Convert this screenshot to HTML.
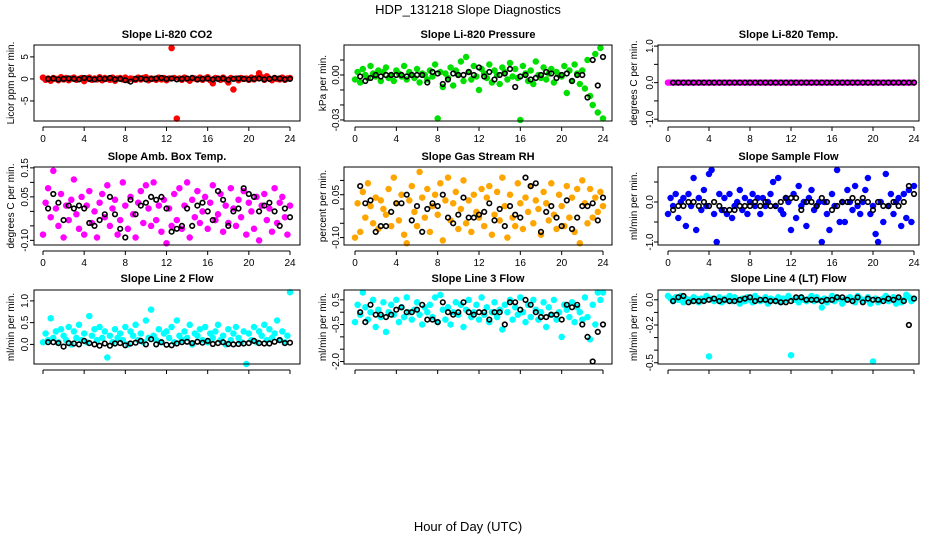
<!DOCTYPE html>
<html><head><meta charset="utf-8"><style>
html,body{margin:0;padding:0;background:#fff;}
svg{display:block;font-family:"Liberation Sans",sans-serif;}
</style></head><body>
<svg id="chart" width="936" height="540" viewBox="0 0 936 540">
<rect x="0" y="0" width="936" height="540" fill="#fff"/>
<text x="468" y="14" text-anchor="middle" font-size="13">HDP_131218  Slope Diagnostics</text>
<text x="468" y="531" text-anchor="middle" font-size="13">Hour of Day (UTC)</text>
</svg>
<script>
const xTicks = [0,4,8,12,16,20,24];
const xTickLabels = ["0","4","8","12","16","20","24"];
// colored series: one value every 0.25 h from 0 to 24; black series: every 0.5 h from 0.5 to 24
const hoursColor = [];
for (let i = 0; i <= 96; i++) hoursColor.push(i * 0.25);
const hoursBlack = [];
for (let i = 1; i <= 48; i++) hoursBlack.push(i * 0.5);

const co2Color = [0.3,-0.2,0.1,-0.4,0.2,0,-0.3,0.4,-0.1,0.2,-0.3,0.1,0.3,-0.2,0,0.2,-0.5,0.1,0.3,-0.2,0.1,-0.1,0.4,-0.3,0.2,0,-0.2,0.3,-0.4,0.1,0.2,-0.1,0.3,-0.3,0.1,0,-0.2,0.3,-0.1,0.2,0.4,-0.3,0.1,0,-0.2,0.3,-0.1,0.2,-0.3,0.1,7.0,0.2,-9.0,0.1,-0.2,0.3,0,-0.4,0.2,0.1,-0.1,0.3,-0.2,0.1,0.4,-0.3,-1.0,0.2,0.1,-0.2,0.3,-0.1,-0.8,0.2,-2.4,0.1,-0.3,0.2,0,0.1,-0.2,0.3,-0.1,0.2,1.3,0.4,-0.2,0.6,0.1,-0.3,0.2,0,-0.1,0.3,-0.2,0.1,0.2];
const co2Black = [0,0.1,-0.1,0,0.1,0,-0.1,0.2,0,-0.1,0.1,0,0.2,-0.1,0,-0.3,-0.6,0,0.1,-0.1,0,0.1,0.2,0,0.1,-0.1,0,0.1,0.2,-0.1,0,0.1,-0.1,0,0.1,-0.2,0,0.1,0,-0.1,0,0.1,-0.1,0,0.2,0.1,-0.1,0];
// pressure in 0.001 kPa/min
const presColor = [-3,2,-5,4,0,-2,6,1,-1,3,-4,2,5,-2,0,-4,3,1,-1,6,-3,2,0,-2,4,-5,1,0,-3,3,-1,7,-29,2,-8,1,-2,5,-7,3,0,9,-4,12,2,-3,6,-1,-10,4,1,-2,7,-5,3,0,-6,5,2,-3,8,-1,4,-2,-30,6,1,-4,3,-6,9,0,-2,5,-3,1,4,-5,2,0,-1,6,-12,3,-4,7,1,-6,3,-9,10,-14,-20,14,-25,18,-29];
const presBlack = [-1,-4,-2,0,-1,0,0,0,0,-1,0,0,0,-5,2,1,-6,-3,1,0,0,2,0,5,-1,2,-3,0,1,4,-8,-1,0,-3,-2,0,2,1,-2,0,1,-4,0,0,-15,10,-7,12];
const tempColor = [0,0,0,0,0,0,0,0,0,0,0,0,0,0,0,0,0,0,0,0,0,0,0,0,0,0,0,0,0,0,0,0,0,0,0,0,0,0,0,0,0,0,0,0,0,0,0,0,0,0,0,0,0,0,0,0,0,0,0,0,0,0,0,0,0,0,0,0,0,0,0,0,0,0,0,0,0,0,0,0,0,0,0,0,0,0,0,0,0,0,0,0,0,0,0,0,0];
const tempBlack = [0,0,0,0,0,0,0,0,0,0,0,0,0,0,0,0,0,0,0,0,0,0,0,0,0,0,0,0,0,0,0,0,0,0,0,0,0,0,0,0,0,0,0,0,0,0,0,0];
// amb box temp in 0.01 C/min
const ambColor = [-8,3,8,-2,14,1,-5,6,-9,2,-3,4,11,-1,-6,5,-8,2,7,-4,0,-9,3,6,-2,9,-5,1,4,-8,-3,10,2,-6,5,-1,-9,3,7,-4,9,1,-5,10,-3,2,-7,4,-11,1,-5,6,-3,8,-6,2,10,-9,4,-2,7,-4,0,5,-6,3,9,-3,-1,6,-7,2,-4,8,1,-5,4,-2,7,-8,3,0,-6,5,-10,2,6,-3,1,-7,8,-4,3,5,-2,-8,2];
const ambBlack = [1,6,3,-3,2,1,2,1,-4,-5,-3,-1,5,-1,-6,-9,4,-1,2,3,5,4,5,1,-7,-6,-5,1,-5,2,3,0,-3,7,4,-5,0,1,8,6,5,0,2,3,0,-5,1,-2];
// gas stream RH in 0.01 %/min
const rhColor = [-10,2,-8,6,-3,9,1,-5,4,-7,3,0,-2,7,-6,11,2,-4,5,-9,-12,3,8,-1,-6,13,4,-3,7,-8,1,5,-2,9,-11,3,11,-4,2,6,-7,0,10,-5,3,-8,5,-1,-3,7,-6,4,8,-9,-2,6,-4,11,1,-10,5,-3,-6,9,2,-7,4,-1,8,-5,3,0,-9,6,2,-4,9,-2,-7,5,1,-6,8,-3,4,-8,7,-12,10,2,-5,7,-3,4,-1,6,1];
const rhBlack = [8,2,3,-8,-6,-6,-1,2,2,5,-4,1,-8,0,2,1,5,-3,-5,-2,4,-3,-3,-2,-1,2,-4,0,-6,1,-2,-3,11,8,9,-8,-1,1,-3,-6,3,-7,-3,1,1,2,-4,4];
// sample flow in 0.1 ml/min/min
const sampColor = [-3,1,-1,2,-4,0,1,-6,2,-1,6,-7,1,-2,3,-1,7,8,-3,-10,2,-2,1,-3,2,-4,-1,0,3,-2,1,-3,0,2,-1,1,-3,1,-1,0,2,5,-1,6,-2,-3,1,0,-7,2,-4,4,-1,0,-6,1,3,-2,-1,0,-10,0,-3,-7,2,-1,8,-5,0,-5,3,0,-2,4,-1,-3,0,3,6,-3,-1,-8,-10,0,-5,7,-1,2,-3,0,1,-6,2,-4,3,-5,4];
const sampBlack = [-2,-1,-1,0,0,-1,0,-1,0,-1,-2,-2,-2,-1,-1,-1,0,-1,0,-1,-1,0,1,1,1,-2,0,0,-1,1,0,-2,-1,0,0,1,0,1,0,-2,0,-1,-1,0,-1,0,4,2];
// line 2 flow in 0.01
const l2Color = [5,25,10,60,15,30,5,35,20,10,40,0,30,15,45,10,25,5,65,20,35,10,40,15,30,-30,20,5,35,15,25,10,40,0,30,20,45,10,25,5,55,15,80,20,10,35,5,25,30,15,40,5,55,20,10,30,15,45,0,25,20,35,10,40,5,25,15,30,45,10,20,0,35,10,25,40,15,5,30,-45,25,10,40,5,30,20,45,10,35,15,25,55,10,30,5,20,120];
const l2Black = [5,5,3,-5,3,2,0,8,3,0,-3,2,-3,2,3,-2,2,4,8,0,12,0,5,-1,-2,2,5,6,3,6,4,8,1,3,5,1,0,1,2,3,8,3,2,2,6,10,3,4];
// line 3 flow in 0.1
const l3Color = [-4,3,-1,8,2,-3,0,5,-6,1,-2,4,-8,0,3,-1,5,-4,2,-2,6,0,-3,1,4,-1,-5,2,0,3,-2,6,-4,7,1,-3,2,-5,0,4,-1,3,-6,1,5,-2,0,3,-3,6,-1,2,-4,0,4,-2,1,-7,3,0,5,-3,2,-1,6,0,-4,3,-2,5,1,-3,0,4,-6,2,-1,5,-3,0,-10,3,1,-2,4,-4,2,0,-3,6,-2,-11,3,-5,8,5,8];
const l3Black = [0,-4,3,-1,-1,-2,-1,1,2,0,0,1,3,-3,-3,-4,4,0,-1,0,4,0,-1,0,0,-3,0,0,-5,4,4,1,5,3,0,-2,-2,-1,-1,-3,3,2,3,-5,-10,-20,-8,-5];
// line 4 flow in 0.01
const l4Color = [3,1,-1,2,0,3,-2,1,0,-1,2,1,-2,1,0,3,-45,1,-1,0,2,-2,1,0,3,-1,2,0,-3,1,-1,2,0,-2,3,1,-1,0,2,-3,1,0,-1,2,-2,1,0,3,-44,0,1,-2,2,0,-1,1,3,-1,2,0,-6,1,-2,0,3,-1,2,1,-3,0,1,2,0,-2,3,1,-1,0,2,-3,-49,1,-2,0,1,3,-1,0,2,-3,1,-2,0,4,2,-1,1];
const l4Black = [-1,2,3,-2,-1,-1,-1,0,1,-1,0,-1,-1,0,1,2,-1,0,0,-1,-1,-2,-2,-1,2,2,0,0,0,-1,0,0,2,2,0,-1,2,-2,1,0,0,-1,1,0,2,-1,-20,1];

const cols = [{bx0:34,bx1:300,x0:43,x24:290,tl:24,yl:10},{bx0:344,bx1:612,x0:355,x24:603,tl:335,yl:322},{bx0:658,bx1:919,x0:668,x24:914,tl:649,yl:633}];
const rows = [{top:45,bot:121,title:38},{top:167,bot:245,title:160},{top:290,bot:364,title:282}];
const panels = [
 {c:0,r:0,id:"co2",title:"Slope Li-820 CO2",yl:"Licor ppm per min.",ymax:7.7,ymin:-9.55,ticks:[-5,0,5],labels:["-5","0","5"],color:"#ff0000",col:co2Color,blk:co2Black},
 {c:1,r:0,id:"pressure",title:"Slope Li-820 Pressure",yl:"kPa per min.",ymax:20,ymin:-30.7,ticks:[10,0,-10,-20,-30],labels:["","0.00","","","-0.03"],color:"#00e000",col:presColor,blk:presBlack},
 {c:2,r:0,id:"temp",title:"Slope Li-820 Temp.",yl:"degrees C per min.",ymax:1.03,ymin:-1.05,ticks:[1,0.5,0,-0.5,-1],labels:["1.0","","0.0","","-1.0"],color:"#ff00ff",col:tempColor,blk:tempBlack},
 {c:0,r:1,id:"amb-box-temp",title:"Slope Amb. Box Temp.",yl:"degrees C per min.",ymax:15.3,ymin:-11.6,ticks:[15,10,5,0,-5,-10],labels:["0.15","","0.05","","","-0.10"],color:"#ff00ff",col:ambColor,blk:ambBlack},
 {c:1,r:1,id:"gas-rh",title:"Slope Gas Stream RH",yl:"percent per min.",ymax:14.7,ymin:-12.6,ticks:[10,5,0,-5,-10],labels:["","0.05","","","-0.10"],color:"#ffa500",col:rhColor,blk:rhBlack},
 {c:2,r:1,id:"sample-flow",title:"Slope Sample Flow",yl:"ml/min per min.",ymax:8.75,ymin:-10.75,ticks:[5,0,-5,-10],labels:["","0.0","","-1.0"],color:"#0000ff",col:sampColor,blk:sampBlack},
 {c:0,r:2,id:"line2-flow",title:"Slope Line 2 Flow",yl:"ml/min per min.",ymax:125,ymin:-45,ticks:[100,50,0],labels:["1.0","0.5","0.0"],color:"#00ffff",col:l2Color,blk:l2Black},
 {c:1,r:2,id:"line3-flow",title:"Slope Line 3 Flow",yl:"ml/min per min.",ymax:9,ymin:-21,ticks:[5,0,-5,-10,-15,-20],labels:["0.5","","-0.5","","","-2.0"],color:"#00ffff",col:l3Color,blk:l3Black},
 {c:2,r:2,id:"line4-flow",title:"Slope Line 4 (LT) Flow",yl:"ml/min per min.",ymax:7.8,ymin:-51,ticks:[0,-10,-20,-30,-40,-50],labels:["0.0","","-0.2","","","-0.5"],color:"#00ffff",col:l4Color,blk:l4Black}
];
const NS = "http://www.w3.org/2000/svg";
const svg = document.getElementById("chart");
function mk(tag, attrs, parent){const e=document.createElementNS(NS,tag);for(const k in attrs)e.setAttribute(k,attrs[k]);parent.appendChild(e);return e;}
panels.forEach(p=>{
  const C=cols[p.c], R=rows[p.r];
  const xs=h=>C.x0+(C.x24-C.x0)*h/24;
  const ys=v=>R.top+(p.ymax-v)/(p.ymax-p.ymin)*(R.bot-R.top);
  const g=mk("g",{},svg);
  
  
  const t=mk("text",{x:(C.bx0+C.bx1)/2,y:R.title,"text-anchor":"middle","font-size":"11","font-weight":"bold"},g);
  t.textContent=p.title;
  
  
  const yt=mk("text",{transform:`translate(${C.yl+4},${(R.top+R.bot)/2}) rotate(-90)`,"text-anchor":"middle","font-size":"10"},g);
  yt.textContent=p.yl;
  
  
  const pts=mk("g",{"stroke-width":"1.5",stroke:p.color,fill:p.color},g);
  
  
  p.col.forEach((v,i)=>{
    const c=mk("circle",{cx:xs(hoursColor[i]).toFixed(1),cy:ys(v).toFixed(1),r:"2.5"},pts);
    
    
  });
  const bk=mk("g",{fill:"none","stroke-width":"1.6",stroke:"#000"},g);
  
  
  p.blk.forEach((v,i)=>{
    const c=mk("circle",{cx:xs(hoursBlack[i]).toFixed(1),cy:ys(v).toFixed(1),r:"2.3"},bk);
    
    
  });
  const box=mk("rect",{x:C.bx0,y:R.top,width:C.bx1-C.bx0,height:R.bot-R.top,fill:"none",stroke:"#000","stroke-width":"1"},g);
  
  
  const ax=R.bot+6;
  const xl=mk("line",{x1:xs(xTicks[0]),x2:xs(xTicks[xTicks.length-1]),y1:ax,y2:ax,stroke:"#000"},g);
  
  
  xTicks.forEach((h,i)=>{
    mk("line",{x1:xs(h),x2:xs(h),y1:ax,y2:ax+4,stroke:"#000"},g);
    if(p.r<2){
      const lt=mk("text",{x:xs(h),y:ax+15,"text-anchor":"middle","font-size":"10"},g);
      lt.textContent=xTickLabels[i];
      
      
    }
  });
  p.ticks.forEach((v,i)=>{
    mk("line",{x1:C.bx0-4,x2:C.bx0,y1:ys(v),y2:ys(v),stroke:"#000"},g);
    if(p.labels[i]){
      const lt=mk("text",{transform:`translate(${C.tl+4},${ys(v)}) rotate(-90)`,"text-anchor":"middle","font-size":"10"},g);
      lt.textContent=p.labels[i];
      
      
    }
  });
});
</script>
</body></html>
